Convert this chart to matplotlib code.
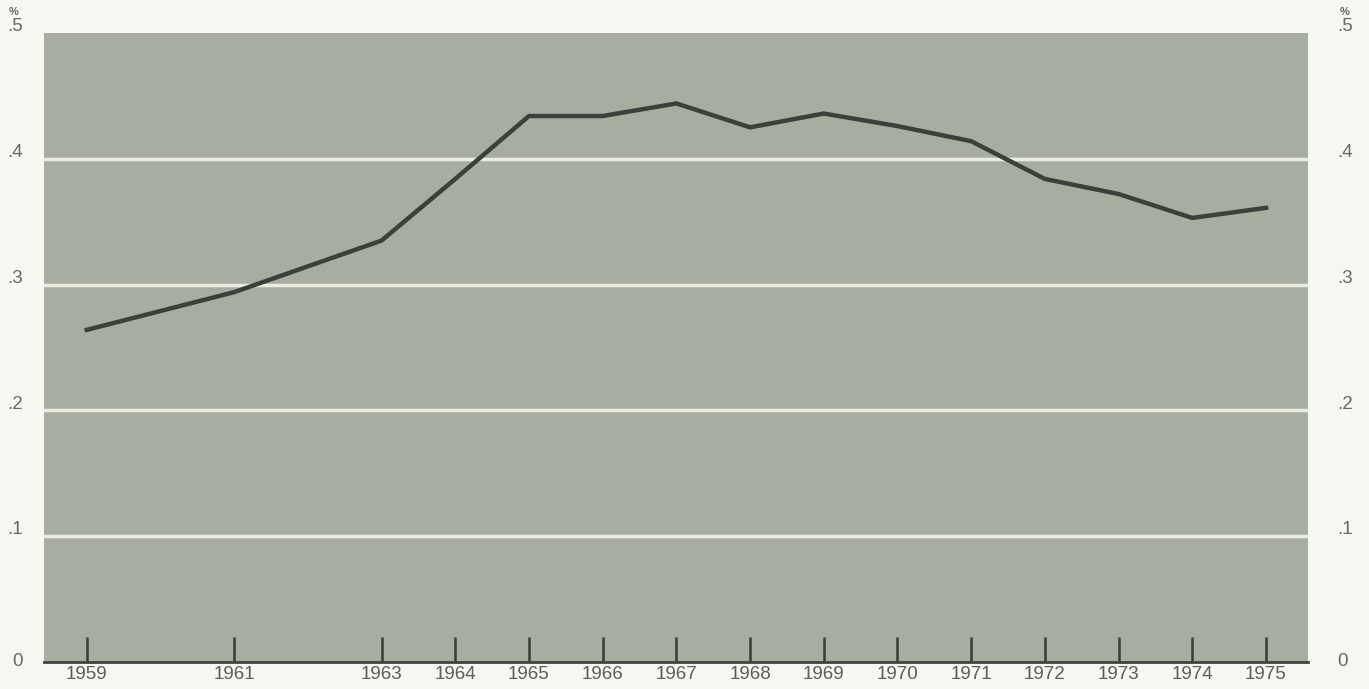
import matplotlib
matplotlib.use('Agg')
import matplotlib.pyplot as plt
import numpy as np

plt.rcParams['font.family'] = ['Liberation Sans', 'DejaVu Sans']

#%% DATA
years = [1959, 1961, 1963, 1964, 1965, 1966, 1967, 1968, 1969, 1970, 1971, 1972, 1973, 1974, 1975]
values = [0.264, 0.294, 0.335, 0.384, 0.434, 0.434, 0.444, 0.425, 0.436, 0.426, 0.414, 0.384, 0.372, 0.353, 0.361]
year_labels = [str(y) for y in years]
y_ticks = [0, 0.1, 0.2, 0.3, 0.4, 0.5]
y_labels = ['0', '.1', '.2', '.3', '.4', '.5']

#%% PLOT
fig = plt.figure(figsize=(13.69, 6.89), dpi=100)
fig.patch.set_facecolor('#f5f7f0')
ax = fig.add_axes([44/1369, 1-662/689, 1264/1369, 629/689])
ax.set_facecolor('#a7ada0')

for g in y_ticks[1:-1]:
    ax.axhline(g, color='#e9eddf', lw=2.5, zorder=1)

ax.plot(years, values, color='#38423a', lw=3.2, solid_joinstyle='miter', zorder=3)

ax.set_xlim(1958.42, 1975.57)
ax.set_ylim(0, 0.5)

ax.set_xticks(years)
ax.set_xticklabels(year_labels, fontsize=13.5, color='#5a5d58')
ax.tick_params(axis='x', direction='in', length=18, width=1.8, color='#343c35', pad=3)
ax.set_yticks([])

for s in ['top', 'left', 'right']:
    ax.spines[s].set_visible(False)
ax.spines['bottom'].set_color('#3c443d')
ax.spines['bottom'].set_linewidth(2)

# y labels on both sides
tr = ax.get_yaxis_transform()
for v, lab in zip(y_ticks, y_labels):
    yy = v + 0.005 if v > 0 else v
    ax.text(-0.017, yy, lab, transform=tr, ha='right', va='center',
            fontsize=13.5, color='#666964')
    ax.text(1.023, yy, lab, transform=tr, ha='left', va='center',
            fontsize=13.5, color='#666964')
ax.text(-0.024, 0.5165, '%', transform=tr, ha='center', va='center',
        fontsize=8, fontweight='bold', color='#666964')
ax.text(1.029, 0.5165, '%', transform=tr, ha='center', va='center',
        fontsize=8, fontweight='bold', color='#666964')

plt.savefig('out.png', dpi=100, facecolor=fig.get_facecolor())
